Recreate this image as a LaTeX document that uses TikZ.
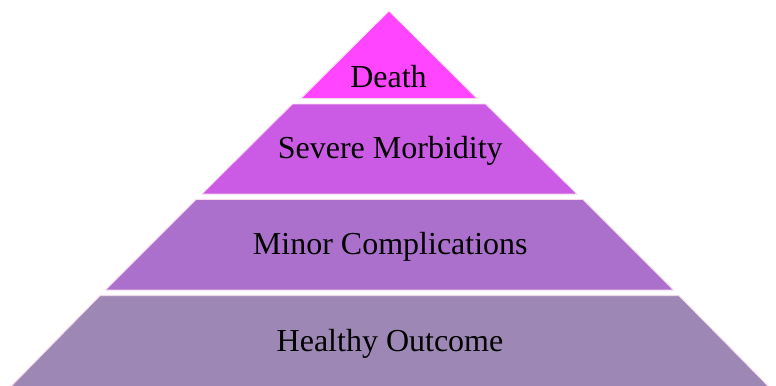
\documentclass[tikz,border=0pt]{standalone}
\usepackage{fontspec}
\setmainfont{Liberation Serif}
\definecolor{cDeath}{RGB}{255,69,255}
\definecolor{cSevere}{RGB}{203,91,229}
\definecolor{cMinor}{RGB}{171,112,204}
\definecolor{cHealthy}{RGB}{157,136,181}
\tikzset{
  band/.style={draw=white!85!magenta, line width=0.6pt, line join=miter},
  label/.style={anchor=base, inner sep=0pt, text=black, font=\fontsize{24pt}{28pt}\selectfont}
}
\begin{document}
\begin{tikzpicture}[x=0.75pt, y=-0.75pt]
\useasboundingbox (0,0) rectangle (776,386);
\fill[white] (0,0) rectangle (776,386);
% bands
\filldraw[band, fill=cDeath] (389,11) -- (477,98.5) -- (301,98.5) -- cycle;
\filldraw[band, fill=cSevere] (292.5,104) -- (485.5,104) -- (577,194) -- (202,194) -- cycle;
\filldraw[band, fill=cMinor] (196,199.5) -- (583,199.5) -- (673.5,290) -- (105.5,290) -- cycle;
\filldraw[band, fill=cHealthy] (100,295.7) -- (679,295.7) -- (769,387) -- (10.5,387) -- cycle;
% labels
\node[label] (death) at (388.5,87.3) {Death};
\node[label] (severe) at (390.3,158.3) {Severe Morbidity};
\node[label] (minor) at (390.3,254.3) {Minor Complications};
\node[label] (healthy) at (390,351) {Healthy Outcome};
\end{tikzpicture}
\end{document}
